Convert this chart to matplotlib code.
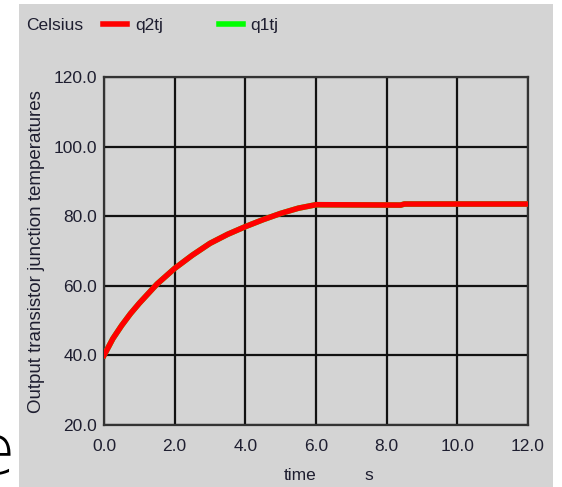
import matplotlib
matplotlib.use("Agg")
import matplotlib.pyplot as plt
from matplotlib.patches import Rectangle

# Data.
times = [0.0, 0.25, 0.5, 0.75, 1.0, 1.5, 2.0, 2.5, 3.0, 3.5, 4.0, 4.5, 5.0, 5.5, 6.0, 8.4, 8.5, 12.0]
q2tj = [40.0, 44.8, 48.6, 52.0, 55.0, 60.5, 65.0, 68.8, 72.2, 74.8, 77.0, 79.0, 80.8, 82.3, 83.3, 83.2, 83.5, 83.5]
q1tj = list(q2tj)
xticks = [0, 2, 4, 6, 8, 10, 12]
yticks = [20, 40, 60, 80, 100, 120]

W, H = 562, 487
fs = 12.5
tc = "#1e1e30"
plt.rcParams["font.family"] = ["Liberation Sans", "DejaVu Sans"]
fig = plt.figure(figsize=(W / 100, H / 100), dpi=100, facecolor="white")

bg = "#d4d4d4"
panel = Rectangle((19 / W, 0), (553 - 19) / W, 1 - 4 / H,
                  transform=fig.transFigure, facecolor=bg,
                  edgecolor="none", zorder=-10)
fig.add_artist(panel)

# Cropped slide letter on the left
fig.text(15 / W, 1 - 455 / H, "e", fontsize=50, color="black",
         ha="right", va="center", family="DejaVu Sans", fontweight="light")

ax = fig.add_axes([104 / W, 1 - 425 / H, 424 / W, 348 / H])
ax.set_facecolor(bg)

l1, = ax.plot(times, q1tj, color="#00ff00", lw=4, label="q1tj", zorder=3)
l2, = ax.plot(times, q2tj, color="#ff0000", lw=4, label="q2tj", zorder=4)

ax.set_xlim(0, 12)
ax.set_ylim(20, 120)
ax.set_xticks(xticks)
ax.set_yticks(yticks)
ax.set_xticklabels([f"{v:.1f}" for v in xticks])
ax.set_yticklabels([f"{v:.1f}" for v in yticks])
ax.grid(True, color="#111111", lw=1.6)
ax.set_axisbelow(True)
for s in ax.spines.values():
    s.set_color("#333333")
    s.set_linewidth(1.6)
ax.tick_params(length=0, labelsize=fs, labelcolor=tc)
ax.tick_params(axis="x", pad=10)
ax.tick_params(axis="y", pad=5)

fig.text(37 / W, 1 - 252 / H, "Output transistor junction temperatures",
         rotation=90, ha="center", va="center", fontsize=13.5, color=tc)
fig.text(300 / W, 1 - 475 / H, "time", ha="center", va="center", fontsize=fs, color=tc)
fig.text(369 / W, 1 - 475 / H, "s", ha="center", va="center", fontsize=fs, color=tc)

fig.text(26 / W, 1 - 25 / H, "Celsius", ha="left", va="center", fontsize=fs, color=tc)
fig.legend(handles=[l2, l1], loc="center left", bbox_to_anchor=(103 / W, 1 - 25 / H),
           ncol=2, frameon=False, fontsize=fs, handlelength=1.4, handletextpad=0.45,
           columnspacing=3.2, borderpad=0, borderaxespad=0, labelcolor=tc)

fig.savefig("out.png", dpi=100, facecolor="white")
